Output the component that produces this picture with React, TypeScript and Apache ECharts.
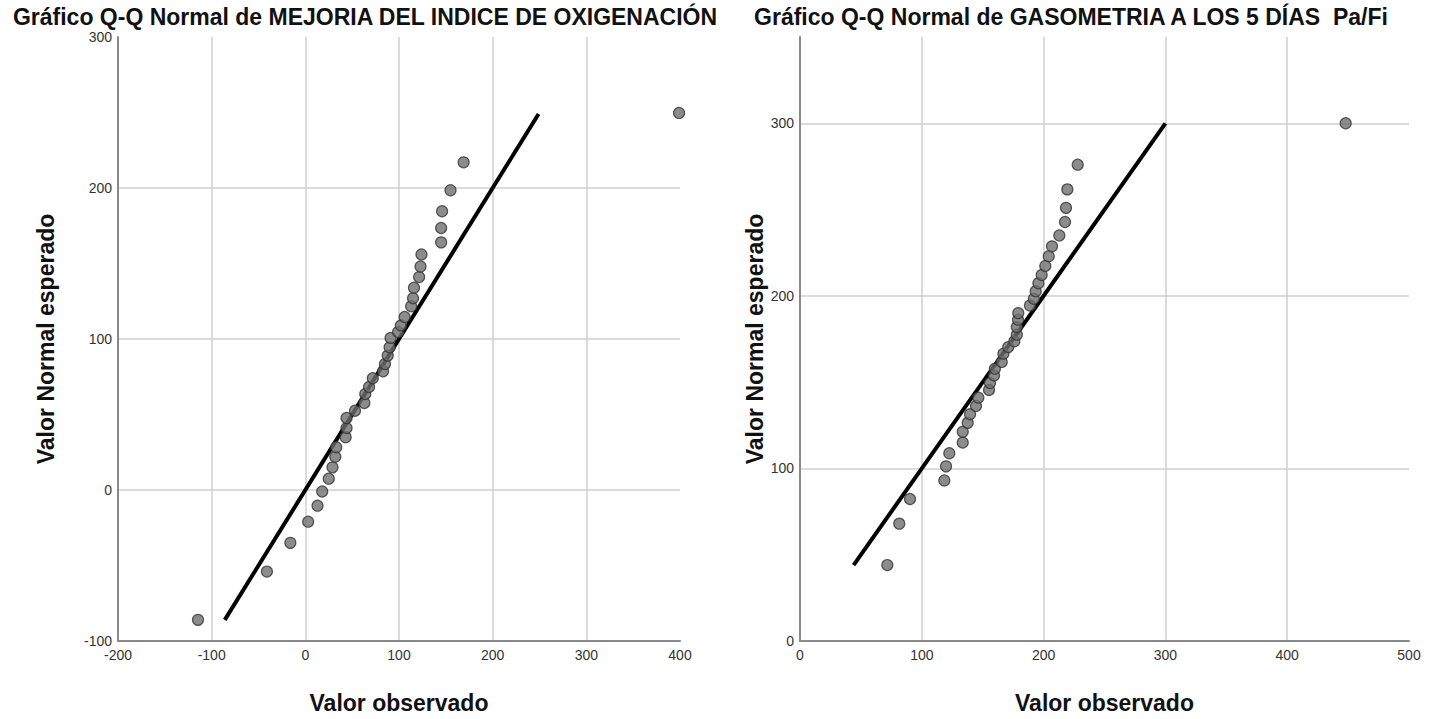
import React, { useEffect, useRef } from "react";
import * as echarts from "echarts";

const leftTitle = "Gráfico Q-Q Normal de MEJORIA DEL INDICE DE OXIGENACIÓN";
const rightTitle = "Gráfico Q-Q Normal de GASOMETRIA A LOS 5 DÍAS  Pa/Fi";
const xName = "Valor observado";
const yName = "Valor Normal esperado";

// Left plot: observed values and expected normal values
const leftObserved = [-114.6, -41, -16, 3, 13, 18, 25, 29, 32, 33, 43, 44, 44, 53, 63, 64, 68, 72, 83, 85, 88, 90, 91, 99, 102, 106, 113, 115, 116, 121.5, 123, 124, 145, 145, 146, 155, 169, 399];
const leftExpected = [-86, -54, -35, -21, -10.4, -1, 7.5, 15, 22, 28.3, 35, 41, 47.7, 52.5, 57.6, 63.6, 68.2, 74, 78.6, 83.4, 89, 94.5, 100.7, 104.6, 109, 114.6, 121.7, 127, 134, 141, 148, 156, 164, 173.5, 184.6, 198.5, 217, 249.7];
const leftLine = [-86, 249];

// Right plot
const rightObserved = [71.7, 81.5, 90.3, 118.5, 119.9, 122.6, 133.6, 133.6, 137.7, 139.6, 144.5, 146.4, 155.2, 156, 159.3, 160, 165.6, 167, 171, 176, 178, 178, 179, 179.2, 188.8, 192, 193.5, 195.7, 198.4, 201.4, 204.2, 206.9, 212.9, 217.6, 218.4, 219.5, 228, 448];
const rightExpected = [44, 68, 82.3, 93, 101.2, 108.8, 115, 121.2, 126.4, 131.4, 136.2, 141, 145.5, 149.5, 153.9, 157.8, 161.7, 166.5, 170.3, 173.7, 177.5, 181.9, 186.2, 190, 194.4, 198.3, 202.7, 207.3, 212.1, 217.3, 223, 228.7, 235, 242.8, 251, 261.7, 276, 300];
const rightLine = [44, 300];

const FONT = "'Liberation Sans', Arial, sans-serif";

function axisCommon() {
  return {
    axisLine: { show: true, onZero: false, lineStyle: { color: "#8a8a8a", width: 2 } },
    axisTick: { show: false },
    splitLine: { show: true, showMaxLine: false, lineStyle: { color: "#cfcfcf", width: 1.5 } },
    nameLocation: "middle",
    nameTextStyle: { color: "#111", fontSize: 23, fontWeight: "bold", fontFamily: FONT },
  };
}
const labelStyle = { color: "#333", fontSize: 14, fontFamily: FONT };

export default function App() {
  const ref = useRef<HTMLDivElement>(null);
  useEffect(() => {
    const chart = echarts.init(ref.current!, null, { renderer: "svg" });
    const pts = (xs: number[], ys: number[]) => xs.map((x, i) => [x, ys[i]]);
    const markerStyle = { color: "#6f6f6f", borderColor: "#333", borderWidth: 1.2 };
    const titleStyle = { fontSize: 23, fontWeight: "bold", color: "#111", fontFamily: FONT };
    chart.setOption({
      animation: false,
      backgroundColor: "#fff",
      title: [
        { text: leftTitle, left: 360, top: 0, textAlign: "center", textStyle: titleStyle },
        { text: rightTitle, left: 1066, top: 0, textAlign: "center", textStyle: titleStyle },
      ],
      grid: [
        { left: 118, top: 37, width: 562, height: 606 },
        { left: 800, top: 37, width: 609, height: 606 },
      ],
      xAxis: [
        { ...axisCommon(), type: "value", gridIndex: 0, min: -200, max: 400, interval: 100, name: xName, nameGap: 50, axisLabel: { ...labelStyle, margin: 7 } },
        { ...axisCommon(), type: "value", gridIndex: 1, min: 0, max: 500, interval: 100, name: xName, nameGap: 50, axisLabel: { ...labelStyle, margin: 7 } },
      ],
      yAxis: [
        { ...axisCommon(), type: "value", gridIndex: 0, min: -100, max: 300, interval: 100, name: yName, nameGap: 61, axisLabel: { ...labelStyle, margin: 6 } },
        { ...axisCommon(), type: "value", gridIndex: 1, min: 0, max: 350, interval: 100, name: yName, nameGap: 18, axisLabel: { ...labelStyle, margin: 6, showMaxLabel: false } },
      ],
      series: [
        { type: "line", xAxisIndex: 0, yAxisIndex: 0, data: [[leftLine[0], leftLine[0]], [leftLine[1], leftLine[1]]], symbol: "none", lineStyle: { color: "#000", width: 4 }, z: 2 },
        { type: "scatter", xAxisIndex: 0, yAxisIndex: 0, data: pts(leftObserved, leftExpected), symbolSize: 11, itemStyle: markerStyle, z: 3 },
        { type: "line", xAxisIndex: 1, yAxisIndex: 1, data: [[rightLine[0], rightLine[0]], [rightLine[1], rightLine[1]]], symbol: "none", lineStyle: { color: "#000", width: 4 }, z: 2 },
        { type: "scatter", xAxisIndex: 1, yAxisIndex: 1, data: pts(rightObserved, rightExpected), symbolSize: 11, itemStyle: markerStyle, z: 3 },
      ],
    });
    return () => chart.dispose();
  }, []);
  return <div ref={ref} style={{ position: "fixed", left: 0, top: 0, width: 1439, height: 719, background: "#fff" }} />;
}
